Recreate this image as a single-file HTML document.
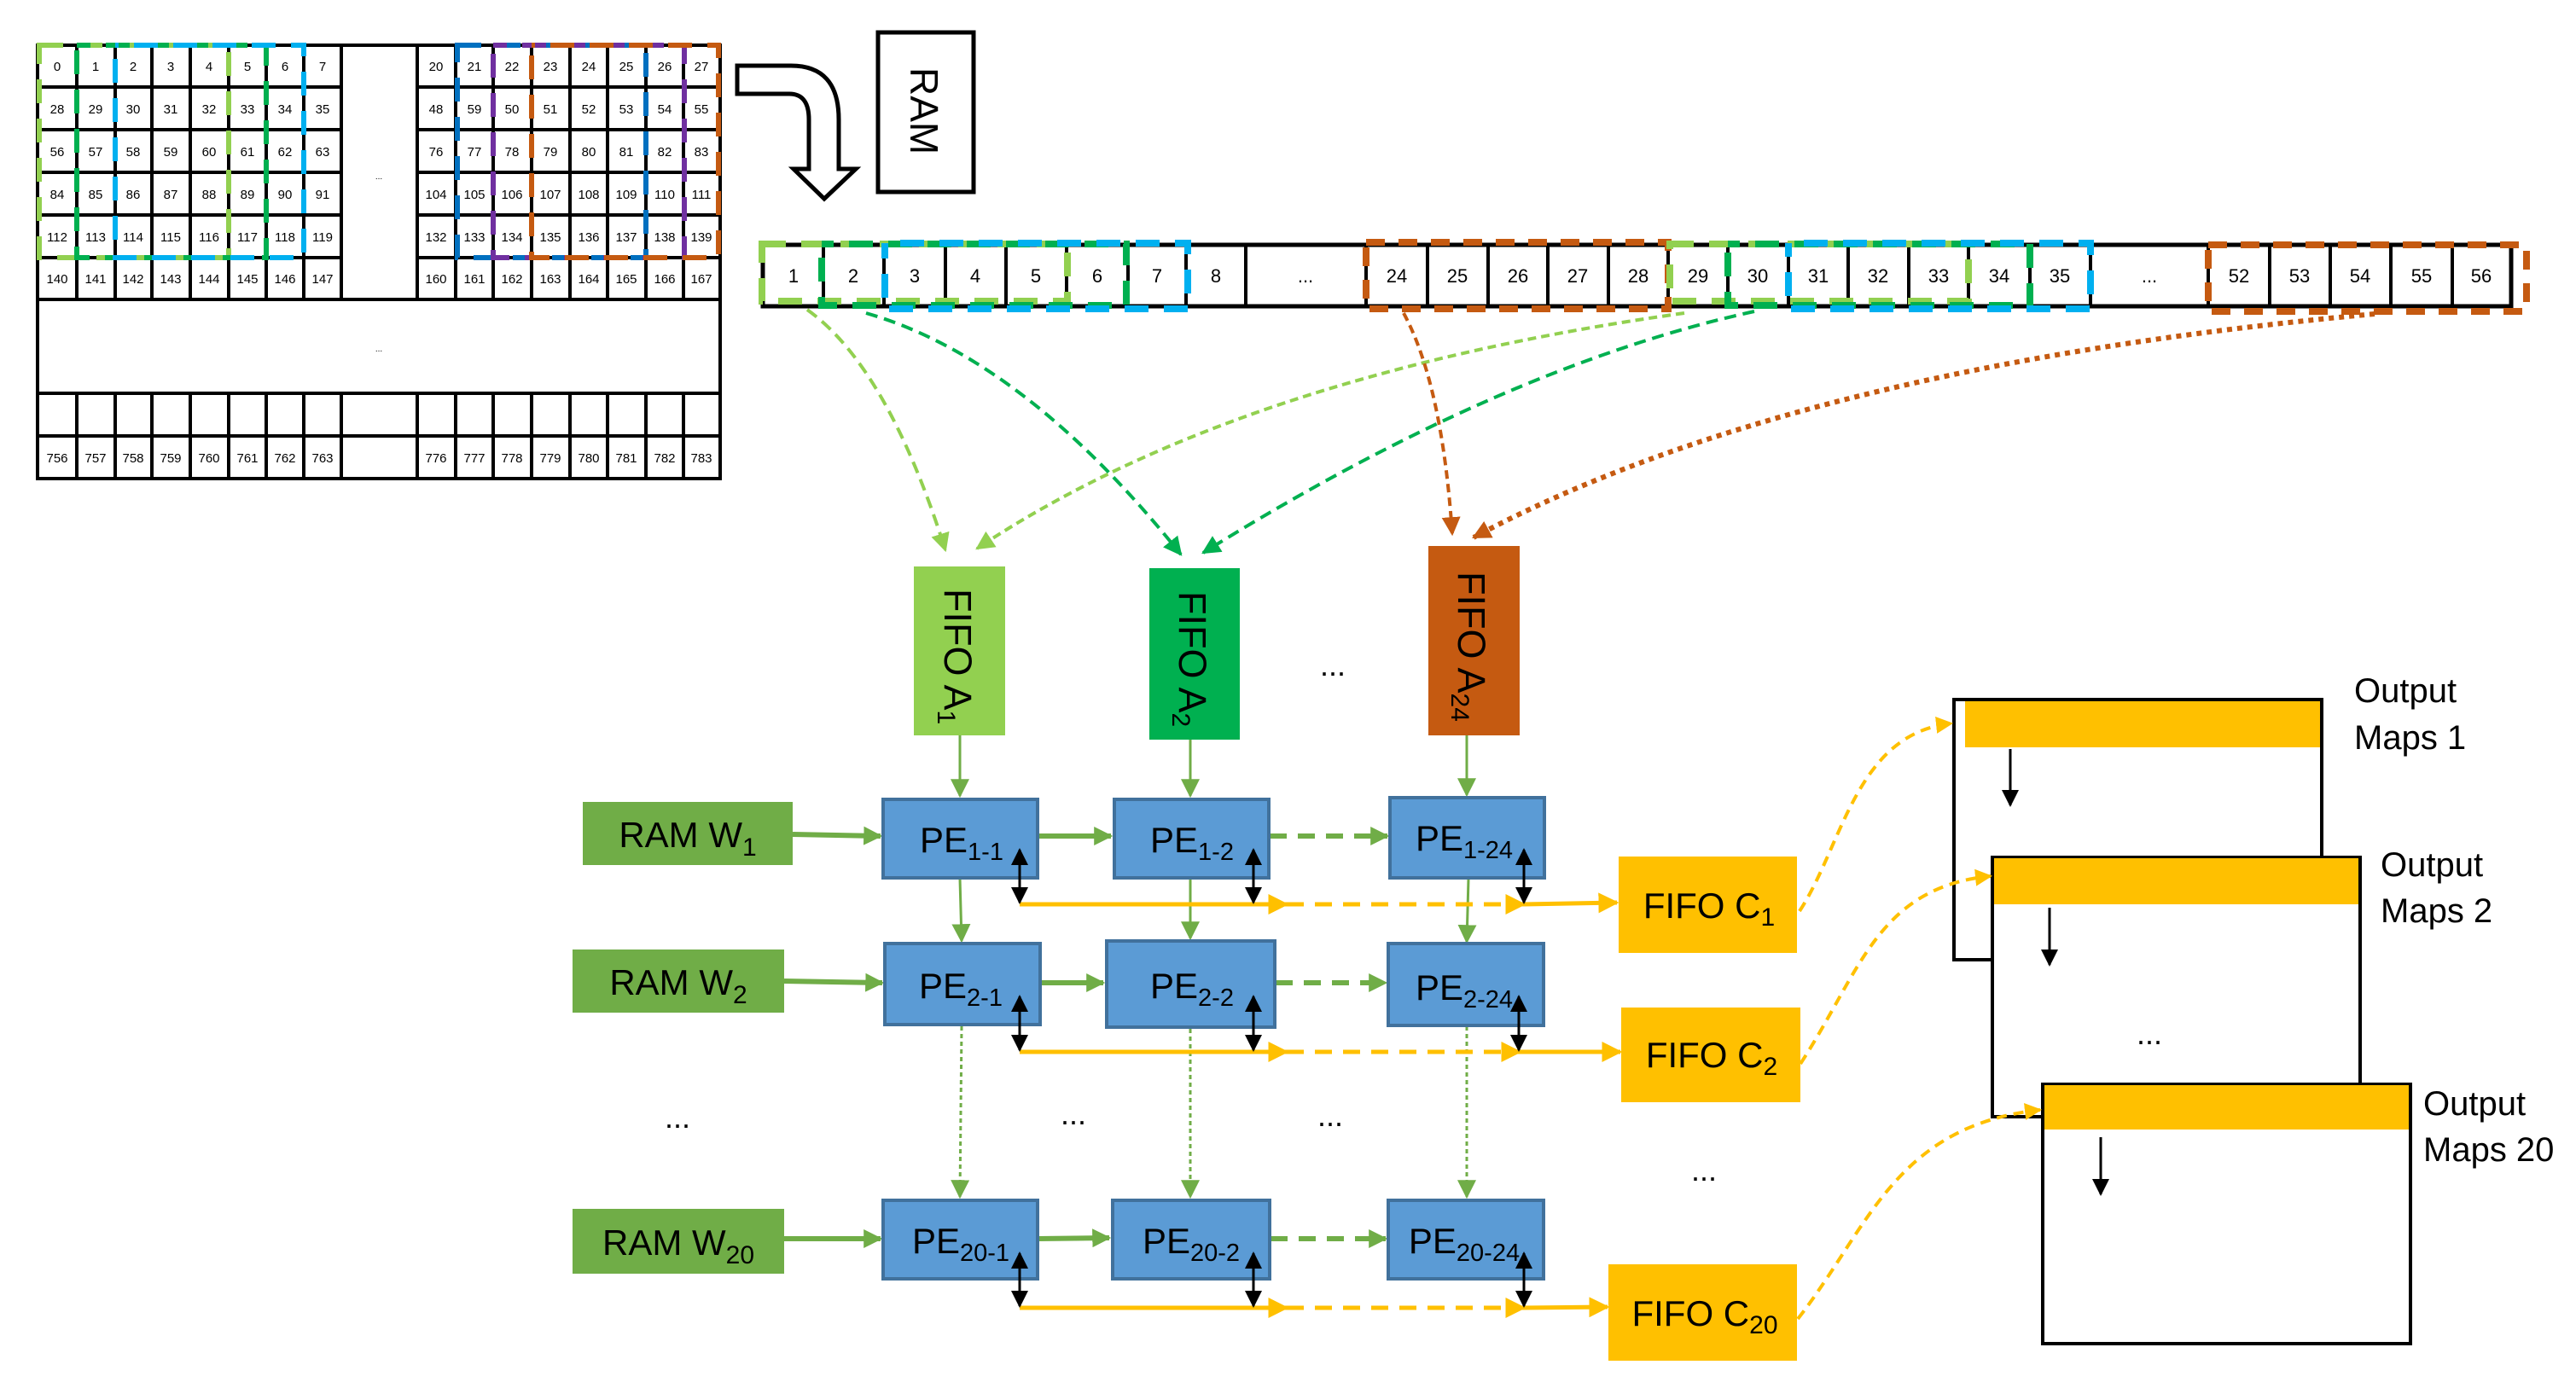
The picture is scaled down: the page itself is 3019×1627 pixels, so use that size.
<!DOCTYPE html>
<html><head><meta charset="utf-8"><style>
html,body{margin:0;padding:0;background:#fff;}
svg{display:block;}
text{font-family:"Liberation Sans",sans-serif;}
.g{font-size:15px;text-anchor:middle;}
.t{font-size:22px;text-anchor:middle;}
</style></head><body>
<svg width="3019" height="1627" viewBox="0 0 3019 1627" xmlns="http://www.w3.org/2000/svg">
<defs>
<marker id="ag" markerWidth="8" markerHeight="8" refX="7" refY="4" orient="auto" markerUnits="userSpaceOnUse" viewBox="0 0 8 8"><path d="M0,0 L8,4 L0,8 z" fill="#70ad47"/></marker>
<marker id="agb" viewBox="0 0 10 10" refX="9" refY="5" markerWidth="22" markerHeight="22" orient="auto" markerUnits="userSpaceOnUse"><path d="M0,0 L10,5 L0,10 z" fill="#70ad47"/></marker>
<marker id="ay" viewBox="0 0 10 10" refX="9" refY="5" markerWidth="24" markerHeight="24" orient="auto" markerUnits="userSpaceOnUse"><path d="M0,0 L10,5 L0,10 z" fill="#ffc000"/></marker>
<marker id="ayc" viewBox="0 0 10 10" refX="9" refY="5" markerWidth="20" markerHeight="20" orient="auto" markerUnits="userSpaceOnUse"><path d="M0,0 L10,5 L0,10 z" fill="#ffc000"/></marker>
<marker id="ak" viewBox="0 0 10 10" refX="9" refY="5" markerWidth="20" markerHeight="20" orient="auto-start-reverse" markerUnits="userSpaceOnUse"><path d="M0,0 L10,5 L0,10 z" fill="#000"/></marker>
<marker id="alg" viewBox="0 0 10 10" refX="9" refY="5" markerWidth="22" markerHeight="22" orient="auto" markerUnits="userSpaceOnUse"><path d="M0,0 L10,5 L0,10 z" fill="#92d050"/></marker>
<marker id="adg" viewBox="0 0 10 10" refX="9" refY="5" markerWidth="22" markerHeight="22" orient="auto" markerUnits="userSpaceOnUse"><path d="M0,0 L10,5 L0,10 z" fill="#00b050"/></marker>
<marker id="aor" viewBox="0 0 10 10" refX="9" refY="5" markerWidth="22" markerHeight="22" orient="auto" markerUnits="userSpaceOnUse"><path d="M0,0 L10,5 L0,10 z" fill="#c55a11"/></marker>
</defs>

<!-- ===== GRID ===== -->
<g stroke="#000" stroke-width="4" fill="none">
<rect x="44" y="53" width="800" height="508"/>
<line x1="44" y1="102" x2="400" y2="102"/><line x1="489" y1="102" x2="844" y2="102"/>
<line x1="44" y1="152" x2="400" y2="152"/><line x1="489" y1="152" x2="844" y2="152"/>
<line x1="44" y1="202" x2="400" y2="202"/><line x1="489" y1="202" x2="844" y2="202"/>
<line x1="44" y1="252" x2="400" y2="252"/><line x1="489" y1="252" x2="844" y2="252"/>
<line x1="44" y1="302" x2="400" y2="302"/><line x1="489" y1="302" x2="844" y2="302"/>
<line x1="44" y1="351" x2="844" y2="351"/>
<line x1="44" y1="461" x2="844" y2="461"/>
<line x1="44" y1="511" x2="844" y2="511"/>
<path d="M90,53V351M135,53V351M178,53V351M223,53V351M268,53V351M312,53V351M356,53V351M400,53V351M489,53V351M534,53V351M578,53V351M623,53V351M668,53V351M712,53V351M757,53V351M801,53V351"/>
<path d="M90,461V561M135,461V561M178,461V561M223,461V561M268,461V561M312,461V561M356,461V561M400,461V561M489,461V561M534,461V561M578,461V561M623,461V561M668,461V561M712,461V561M757,461V561M801,461V561"/>
</g>
<g class="g">
<text x="67" y="83">0</text><text x="112" y="83">1</text><text x="156" y="83">2</text><text x="200" y="83">3</text><text x="245" y="83">4</text><text x="290" y="83">5</text><text x="334" y="83">6</text><text x="378" y="83">7</text>
<text x="511" y="83">20</text><text x="556" y="83">21</text><text x="600" y="83">22</text><text x="645" y="83">23</text><text x="690" y="83">24</text><text x="734" y="83">25</text><text x="779" y="83">26</text><text x="822" y="83">27</text>
<text x="67" y="133">28</text><text x="112" y="133">29</text><text x="156" y="133">30</text><text x="200" y="133">31</text><text x="245" y="133">32</text><text x="290" y="133">33</text><text x="334" y="133">34</text><text x="378" y="133">35</text>
<text x="511" y="133">48</text><text x="556" y="133">59</text><text x="600" y="133">50</text><text x="645" y="133">51</text><text x="690" y="133">52</text><text x="734" y="133">53</text><text x="779" y="133">54</text><text x="822" y="133">55</text>
<text x="67" y="183">56</text><text x="112" y="183">57</text><text x="156" y="183">58</text><text x="200" y="183">59</text><text x="245" y="183">60</text><text x="290" y="183">61</text><text x="334" y="183">62</text><text x="378" y="183">63</text>
<text x="511" y="183">76</text><text x="556" y="183">77</text><text x="600" y="183">78</text><text x="645" y="183">79</text><text x="690" y="183">80</text><text x="734" y="183">81</text><text x="779" y="183">82</text><text x="822" y="183">83</text>
<text x="67" y="233">84</text><text x="112" y="233">85</text><text x="156" y="233">86</text><text x="200" y="233">87</text><text x="245" y="233">88</text><text x="290" y="233">89</text><text x="334" y="233">90</text><text x="378" y="233">91</text>
<text x="511" y="233">104</text><text x="556" y="233">105</text><text x="600" y="233">106</text><text x="645" y="233">107</text><text x="690" y="233">108</text><text x="734" y="233">109</text><text x="779" y="233">110</text><text x="822" y="233">111</text>
<text x="67" y="283">112</text><text x="112" y="283">113</text><text x="156" y="283">114</text><text x="200" y="283">115</text><text x="245" y="283">116</text><text x="290" y="283">117</text><text x="334" y="283">118</text><text x="378" y="283">119</text>
<text x="511" y="283">132</text><text x="556" y="283">133</text><text x="600" y="283">134</text><text x="645" y="283">135</text><text x="690" y="283">136</text><text x="734" y="283">137</text><text x="779" y="283">138</text><text x="822" y="283">139</text>
<text x="67" y="332">140</text><text x="112" y="332">141</text><text x="156" y="332">142</text><text x="200" y="332">143</text><text x="245" y="332">144</text><text x="290" y="332">145</text><text x="334" y="332">146</text><text x="378" y="332">147</text>
<text x="511" y="332">160</text><text x="556" y="332">161</text><text x="600" y="332">162</text><text x="645" y="332">163</text><text x="690" y="332">164</text><text x="734" y="332">165</text><text x="779" y="332">166</text><text x="822" y="332">167</text>
<text x="67" y="542">756</text><text x="112" y="542">757</text><text x="156" y="542">758</text><text x="200" y="542">759</text><text x="245" y="542">760</text><text x="290" y="542">761</text><text x="334" y="542">762</text><text x="378" y="542">763</text>
<text x="511" y="542">776</text><text x="556" y="542">777</text><text x="600" y="542">778</text><text x="645" y="542">779</text><text x="690" y="542">780</text><text x="734" y="542">781</text><text x="779" y="542">782</text><text x="822" y="542">783</text>
<text x="444" y="210" style="font-size:10px">...</text><text x="444" y="412" style="font-size:10px">...</text>
</g>
<g fill="none" stroke-width="6" stroke-dasharray="28 18">
<rect x="46" y="53" width="222" height="249" stroke="#92d050"/>
<rect x="90" y="53" width="222" height="249" stroke="#00b050" stroke-dashoffset="12"/>
<rect x="135" y="53" width="221" height="249" stroke="#00b0f0" stroke-dashoffset="24"/>
<rect x="536" y="53" width="221" height="249" stroke="#0070c0"/>
<rect x="578" y="53" width="224" height="249" stroke="#7030a0" stroke-dashoffset="12"/>
<rect x="623" y="53" width="219" height="249" stroke="#c55a11" stroke-dashoffset="24"/>
</g>

<!-- curved arrow & RAM -->
<path d="M864,77 H927 Q983,77 983,140 V198 H1003 L966,233 L930,198 H948 V140 Q948,110 925,110 H864 Z" fill="#fff" stroke="#000" stroke-width="5"/>
<rect x="1029" y="38" width="112" height="187" fill="#fff" stroke="#000" stroke-width="5"/>
<text transform="translate(1067,79) rotate(90)" style="font-size:46px">RAM</text>

<!-- ===== TAPE ===== -->
<g stroke="#000" stroke-width="5" fill="none">
<rect x="894" y="287" width="2049" height="72"/>
<path d="M965,287V359M1036,287V359M1108,287V359M1179,287V359M1250,287V359M1322,287V359M1390,287V359M1460,287V359M1601,287V359M1673,287V359M1744,287V359M1814,287V359M1885,287V359M1955,287V359M2025,287V359M2096,287V359M2166,287V359M2237,287V359M2307,287V359M2379,287V359M2450,287V359M2588,287V359M2660,287V359M2731,287V359M2802,287V359M2874,287V359" stroke-width="4"/>
</g>
<g class="t">
<text x="930" y="331">1</text><text x="1000" y="331">2</text><text x="1072" y="331">3</text><text x="1143" y="331">4</text><text x="1214" y="331">5</text><text x="1286" y="331">6</text><text x="1356" y="331">7</text><text x="1425" y="331">8</text><text x="1530" y="331">...</text>
<text x="1637" y="331">24</text><text x="1708" y="331">25</text><text x="1779" y="331">26</text><text x="1849" y="331">27</text><text x="1920" y="331">28</text><text x="1990" y="331">29</text><text x="2060" y="331">30</text><text x="2131" y="331">31</text><text x="2201" y="331">32</text><text x="2272" y="331">33</text><text x="2343" y="331">34</text><text x="2414" y="331">35</text><text x="2519" y="331">...</text>
<text x="2624" y="331">52</text><text x="2695" y="331">53</text><text x="2766" y="331">54</text><text x="2838" y="331">55</text><text x="2908" y="331">56</text>
</g>
<g fill="none" stroke-width="8" stroke-dasharray="28 18">
<rect x="893" y="286" width="358" height="67" stroke="#92d050"/>
<rect x="963" y="286" width="357" height="72" stroke="#00b050" stroke-dashoffset="14"/>
<rect x="1037" y="285" width="355" height="77" stroke="#00b0f0" stroke-dashoffset="28"/>
<rect x="1601" y="284" width="354" height="78" stroke="#c55a11" stroke-dasharray="22 16"/>
<rect x="1957" y="286" width="350" height="67" stroke="#92d050"/>
<rect x="2025" y="286" width="354" height="72" stroke="#00b050" stroke-dashoffset="14"/>
<rect x="2096" y="285" width="354" height="77" stroke="#00b0f0" stroke-dashoffset="28"/>
<rect x="2588" y="287" width="373" height="78" stroke="#c55a11" stroke-dasharray="22 16"/>
</g>

<!-- tape -> FIFO A curves -->
<g fill="none" stroke-width="4">
<path d="M946,363 Q1040,430 1108,645" stroke="#92d050" stroke-dasharray="14 8" marker-end="url(#alg)"/>
<path d="M1974,367 Q1450,440 1145,643" stroke="#92d050" stroke-dasharray="10 6" marker-end="url(#alg)"/>
<path d="M1015,367 Q1200,420 1384,650" stroke="#00b050" stroke-dasharray="14 8" marker-end="url(#adg)"/>
<path d="M2056,365 Q1760,430 1410,648" stroke="#00b050" stroke-dasharray="14 8" marker-end="url(#adg)"/>
<path d="M1645,367 Q1690,450 1702,626" stroke="#c55a11" stroke-dasharray="10 6" marker-end="url(#aor)"/>
<path d="M2783,368 Q2100,430 1727,630" stroke="#c55a11" stroke-dasharray="6 6" stroke-width="6" marker-end="url(#aor)"/>
</g>

<!-- FIFO A -->
<rect x="1071" y="664" width="107" height="198" fill="#92d050"/>
<rect x="1347" y="666" width="106" height="201" fill="#00b050"/>
<rect x="1674" y="640" width="107" height="222" fill="#c55a11"/>
<text transform="translate(1107,690) rotate(90)" style="font-size:45px">FIFO A<tspan style="font-size:30px" dy="8">1</tspan></text>
<text transform="translate(1382,693) rotate(90)" style="font-size:45px">FIFO A<tspan style="font-size:30px" dy="8">2</tspan></text>
<text transform="translate(1709,670) rotate(90)" style="font-size:45px">FIFO A<tspan style="font-size:30px" dy="8">24</tspan></text>
<text x="1562" y="792" style="font-size:36px;text-anchor:middle">...</text>

<!-- green vertical arrows -->
<g stroke="#70ad47" stroke-width="3" fill="none">
<line x1="1125" y1="862" x2="1125" y2="933" marker-end="url(#agb)"/>
<line x1="1395" y1="867" x2="1395" y2="933" marker-end="url(#agb)"/>
<line x1="1719" y1="862" x2="1719" y2="932" marker-end="url(#agb)"/>
<line x1="1125" y1="1030" x2="1127" y2="1103" marker-end="url(#agb)"/>
<line x1="1395" y1="1030" x2="1395" y2="1100" marker-end="url(#agb)"/>
<line x1="1721" y1="1030" x2="1719" y2="1104" marker-end="url(#agb)"/>
<line x1="1127" y1="1203" x2="1125" y2="1403" stroke-dasharray="5 4" marker-end="url(#agb)"/>
<line x1="1395" y1="1206" x2="1395" y2="1403" stroke-dasharray="5 4" marker-end="url(#agb)"/>
<line x1="1719" y1="1203" x2="1719" y2="1403" stroke-dasharray="5 4" marker-end="url(#agb)"/>
</g>

<!-- RAM W -->
<rect x="683" y="940" width="246" height="74" fill="#70ad47"/>
<rect x="671" y="1113" width="248" height="74" fill="#70ad47"/>
<rect x="671" y="1417" width="248" height="76" fill="#70ad47"/>
<g style="font-size:42px;text-anchor:middle">
<text x="806" y="993">RAM W<tspan style="font-size:30px" dy="10">1</tspan></text>
<text x="795" y="1166">RAM W<tspan style="font-size:30px" dy="10">2</tspan></text>
<text x="795" y="1471">RAM W<tspan style="font-size:30px" dy="10">20</tspan></text>
</g>
<text x="794" y="1322" style="font-size:36px;text-anchor:middle">...</text>
<text x="1258" y="1318" style="font-size:36px;text-anchor:middle">...</text>
<text x="1559" y="1320" style="font-size:36px;text-anchor:middle">...</text>
<text x="1997" y="1384" style="font-size:36px;text-anchor:middle">...</text>

<!-- green horizontal arrows -->
<g stroke="#70ad47" stroke-width="6" fill="none">
<line x1="929" y1="978" x2="1032" y2="980" marker-end="url(#agb)"/>
<line x1="919" y1="1150" x2="1034" y2="1152" marker-end="url(#agb)"/>
<line x1="919" y1="1452" x2="1032" y2="1452" marker-end="url(#agb)"/>
<line x1="1217" y1="980" x2="1302" y2="980" marker-end="url(#agb)"/>
<line x1="1220" y1="1152" x2="1293" y2="1152" marker-end="url(#agb)"/>
<line x1="1217" y1="1452" x2="1300" y2="1451" marker-end="url(#agb)"/>
<line x1="1488" y1="980" x2="1626" y2="980" stroke-dasharray="20 13" marker-end="url(#agb)"/>
<line x1="1495" y1="1152" x2="1624" y2="1152" stroke-dasharray="20 13" marker-end="url(#agb)"/>
<line x1="1489" y1="1452" x2="1624" y2="1452" stroke-dasharray="20 13" marker-end="url(#agb)"/>
</g>

<!-- PE boxes -->
<g fill="#5b9bd5" stroke="#41719c" stroke-width="4">
<rect x="1035" y="937" width="181" height="92"/>
<rect x="1306" y="937" width="181" height="92"/>
<rect x="1629" y="935" width="181" height="94"/>
<rect x="1037" y="1106" width="182" height="95"/>
<rect x="1297" y="1103" width="197" height="101"/>
<rect x="1627" y="1106" width="182" height="96"/>
<rect x="1035" y="1407" width="181" height="92"/>
<rect x="1304" y="1407" width="184" height="92"/>
<rect x="1627" y="1407" width="182" height="92"/>
</g>
<g style="font-size:42px;text-anchor:middle">
<text x="1127" y="999">PE<tspan style="font-size:29px" dy="9">1-1</tspan></text>
<text x="1397" y="999">PE<tspan style="font-size:29px" dy="9">1-2</tspan></text>
<text x="1716" y="997">PE<tspan style="font-size:29px" dy="9">1-24</tspan></text>
<text x="1126" y="1170">PE<tspan style="font-size:29px" dy="9">2-1</tspan></text>
<text x="1397" y="1170">PE<tspan style="font-size:29px" dy="9">2-2</tspan></text>
<text x="1716" y="1172">PE<tspan style="font-size:29px" dy="9">2-24</tspan></text>
<text x="1126" y="1469">PE<tspan style="font-size:29px" dy="9">20-1</tspan></text>
<text x="1396" y="1469">PE<tspan style="font-size:29px" dy="9">20-2</tspan></text>
<text x="1716" y="1469">PE<tspan style="font-size:29px" dy="9">20-24</tspan></text>
</g>

<!-- yellow buses -->
<g stroke="#ffc000" stroke-width="5" fill="none">
<line x1="1195" y1="1060" x2="1508" y2="1060" marker-end="url(#ay)"/>
<line x1="1508" y1="1060" x2="1786" y2="1060" stroke-dasharray="20 13" marker-end="url(#ay)"/>
<line x1="1786" y1="1060" x2="1895" y2="1058" marker-end="url(#ay)"/>
<line x1="1195" y1="1233" x2="1508" y2="1233" marker-end="url(#ay)"/>
<line x1="1508" y1="1233" x2="1781" y2="1233" stroke-dasharray="20 13" marker-end="url(#ay)"/>
<line x1="1781" y1="1233" x2="1899" y2="1233" marker-end="url(#ay)"/>
<line x1="1195" y1="1533" x2="1508" y2="1533" marker-end="url(#ay)"/>
<line x1="1508" y1="1533" x2="1786" y2="1533" stroke-dasharray="20 13" marker-end="url(#ay)"/>
<line x1="1786" y1="1533" x2="1884" y2="1532" marker-end="url(#ay)"/>
</g>

<!-- black double arrows -->
<g stroke="#000" stroke-width="3">
<line x1="1195" y1="996" x2="1195" y2="1058" marker-start="url(#ak)" marker-end="url(#ak)"/>
<line x1="1469" y1="996" x2="1469" y2="1058" marker-start="url(#ak)" marker-end="url(#ak)"/>
<line x1="1786" y1="996" x2="1786" y2="1058" marker-start="url(#ak)" marker-end="url(#ak)"/>
<line x1="1195" y1="1168" x2="1195" y2="1231" marker-start="url(#ak)" marker-end="url(#ak)"/>
<line x1="1469" y1="1168" x2="1469" y2="1231" marker-start="url(#ak)" marker-end="url(#ak)"/>
<line x1="1780" y1="1168" x2="1780" y2="1231" marker-start="url(#ak)" marker-end="url(#ak)"/>
<line x1="1195" y1="1469" x2="1195" y2="1531" marker-start="url(#ak)" marker-end="url(#ak)"/>
<line x1="1469" y1="1469" x2="1469" y2="1531" marker-start="url(#ak)" marker-end="url(#ak)"/>
<line x1="1786" y1="1469" x2="1786" y2="1531" marker-start="url(#ak)" marker-end="url(#ak)"/>
</g>

<!-- FIFO C -->
<rect x="1897" y="1004" width="209" height="113" fill="#ffc000"/>
<rect x="1900" y="1181" width="210" height="111" fill="#ffc000"/>
<rect x="1885" y="1482" width="221" height="113" fill="#ffc000"/>
<g style="font-size:42px;text-anchor:middle">
<text x="2003" y="1076">FIFO C<tspan style="font-size:30px" dy="9">1</tspan></text>
<text x="2006" y="1251">FIFO C<tspan style="font-size:30px" dy="9">2</tspan></text>
<text x="1998" y="1554">FIFO C<tspan style="font-size:30px" dy="9">20</tspan></text>
</g>

<!-- Output maps -->
<rect x="2290" y="820" width="431" height="305" fill="#fff" stroke="#000" stroke-width="4"/>
<rect x="2303" y="822" width="416" height="54" fill="#ffc000"/>
<line x1="2356" y1="878" x2="2356" y2="944" stroke="#000" stroke-width="3" marker-end="url(#ak)"/>
<rect x="2335" y="1005" width="431" height="304" fill="#fff" stroke="#000" stroke-width="4"/>
<rect x="2337" y="1006" width="427" height="54" fill="#ffc000"/>
<line x1="2402" y1="1064" x2="2402" y2="1131" stroke="#000" stroke-width="3" marker-end="url(#ak)"/>
<text x="2519" y="1224" style="font-size:36px;text-anchor:middle">...</text>
<rect x="2394" y="1271" width="431" height="304" fill="#fff" stroke="#000" stroke-width="4"/>
<rect x="2396" y="1272" width="427" height="52" fill="#ffc000"/>
<line x1="2462" y1="1333" x2="2462" y2="1400" stroke="#000" stroke-width="3" marker-end="url(#ak)"/>
<g style="font-size:40px">
<text x="2759" y="823">Output</text><text x="2759" y="878">Maps 1</text>
<text x="2790" y="1027">Output</text><text x="2790" y="1081">Maps 2</text>
<text x="2840" y="1307">Output</text><text x="2840" y="1361">Maps 20</text>
</g>
<g fill="none" stroke="#ffc000" stroke-width="4" stroke-dasharray="12 8">
<path d="M2109,1068 C2160,990 2175,860 2287,848" marker-end="url(#ayc)"/>
<path d="M2110,1247 C2180,1140 2200,1040 2333,1027" marker-end="url(#ayc)"/>
<path d="M2107,1546 C2190,1440 2220,1320 2391,1301" marker-end="url(#ayc)"/>
</g>
</svg>
</body></html>
